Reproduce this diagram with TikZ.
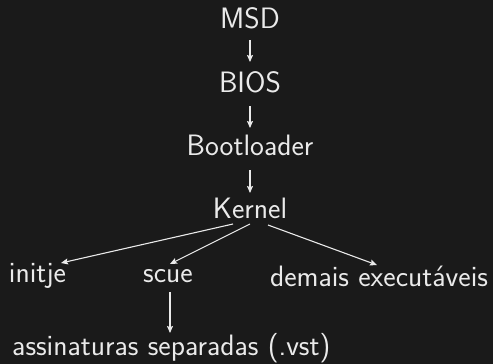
\documentclass[tikz,border=0pt]{standalone}
\usetikzlibrary{arrows.meta}
\definecolor{bgdark}{HTML}{1A1A1A}
\definecolor{fg}{HTML}{EAEAEA}
\begin{document}
\begin{tikzpicture}[x=1pt,y=-1pt,
  lbl/.style={text=fg,inner sep=0pt,font=\sffamily\fontsize{29.5}{35}\selectfont},
  arr/.style={draw=fg,line width=1.1pt,-{Stealth[length=7pt,width=6pt,inset=1.2pt]}}]
  % canvas
  \fill[bgdark] (0,0) rectangle (493,364);
  \useasboundingbox (0,0) rectangle (493,364);

  % boot chain
  \node[lbl,anchor=base] (msd)  at (250,28)  {MSD};
  \node[lbl,anchor=base] (bios) at (250,92)  {BIOS};
  \node[lbl,anchor=base] (boot) at (250,155) {Bootloader};
  \node[lbl,anchor=base] (kern) at (250,218) {Kernel};

  % processes started by the kernel
  \node[lbl] (init) at (37.5,276) {initje};
  \node[lbl] (scue) at (168,276)  {scue};
  \node[lbl] (rest) at (379,276)  {demais executáveis};
  \node[lbl,anchor=base west] (sig) at (12,355) {assinaturas separadas (.vst)};
  \coordinate (sigbase) at (scue.center |- sig.base west);

  % connectors
  \draw[arr] ([yshift=-12pt]msd.base)  -- ([yshift=30pt]bios.base);
  \draw[arr] ([yshift=-14pt]bios.base) -- ([yshift=27pt]boot.base);
  \draw[arr] ([yshift=-15pt]boot.base) -- ([yshift=25pt]kern.base);

  \draw[arr] ([shift={(-17pt,-6pt)}]kern.base) -- ([shift={(23.5pt,13pt)}]init.center);
  \draw[arr] ([shift={(0pt,-6pt)}]kern.base)   -- ([shift={(2pt,12pt)}]scue.center);
  \draw[arr] ([shift={(18pt,-7pt)}]kern.base)  -- ([shift={(-2pt,11pt)}]rest.center);

  \draw[arr] ([shift={(2pt,-16pt)}]scue.center) -- ([shift={(2pt,22pt)}]sigbase);
\end{tikzpicture}
\end{document}
